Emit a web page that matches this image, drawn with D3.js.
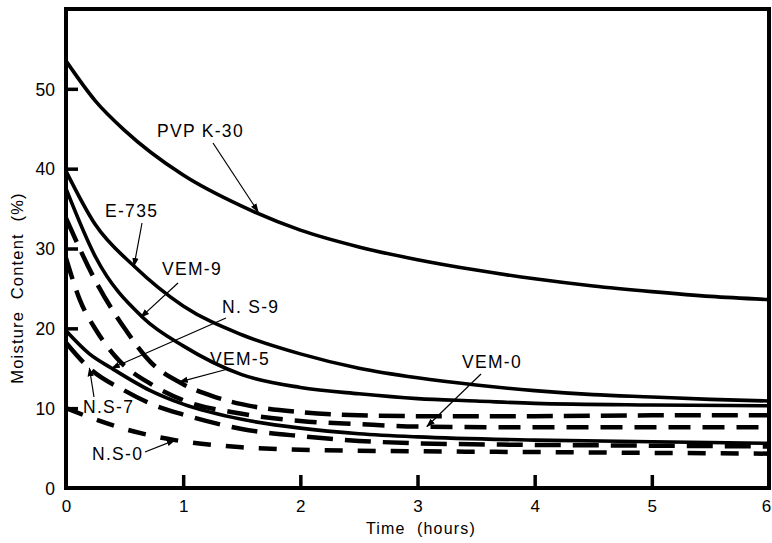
<!DOCTYPE html>
<html>
<head>
<meta charset="utf-8">
<script src="https://cdn.jsdelivr.net/npm/d3@7"></script>
<style>
  body { margin: 0; background: #fff; }
  text { font-family: "Liberation Sans", Arial, sans-serif; fill: #000; }
</style>
</head>
<body>
<div id="chart"></div>
<script>
// time in hours, moisture content in %
var pvpK30 = [[0,53.5],[0.25,48.5],[0.5,44.8],[1,39.2],[1.5,35.3],[2,32.3],[2.5,30.2],[3,28.6],[3.5,27.3],[4,26.2],[4.5,25.3],[5,24.6],[5.5,24.0],[6,23.6]]
var e735 = [[0,39.7],[0.25,33.0],[0.58,27.8],[1,22.8],[1.5,19.2],[2,16.8],[2.5,15.0],[3,13.8],[3.5,12.9],[4,12.2],[4.5,11.7],[5,11.4],[5.5,11.1],[6,10.9]]
var vem9 = [[0,37.5],[0.25,29.0],[0.66,21.3],[1,17.8],[1.5,14.2],[2,12.6],[2.5,11.8],[3,11.2],[3.5,10.9],[4,10.6],[5,10.4],[6,10.3]]
var vem5 = [[0,33.8],[0.25,26.0],[0.5,20.0],[0.72,15.8],[1,13.0],[1.25,11.5],[1.5,10.5],[2,9.5],[2.5,9.1],[3,9.0],[4,9.0],[5,9.1],[6,9.1]]
var vem0 = [[0,28.8],[0.12,23.5],[0.26,19.7],[0.42,16.5],[0.75,12.8],[1,11.0],[1.5,9.3],[2,8.4],[2.5,8.0],[3,7.7],[4,7.6],[5,7.6],[6,7.6]]
var ns9 = [[0,19.7],[0.2,16.8],[0.39,15.0],[0.72,12.2],[1,10.5],[1.5,8.6],[2,7.5],[2.5,6.8],[3,6.4],[4,6.0],[5,5.8],[6,5.6]]
var ns7 = [[0,18.2],[0.2,15.0],[0.5,12.2],[0.75,10.4],[1,9.2],[1.5,7.4],[2,6.5],[2.5,5.9],[3,5.6],[4,5.4],[5,5.3],[6,5.2]]
var ns0 = [[0,10.0],[0.25,8.6],[0.5,7.4],[0.75,6.5],[0.93,6.0],[1.25,5.4],[1.5,5.1],[2,4.8],[3,4.6],[4,4.5],[5,4.4],[6,4.3]]

var xTicks = [0,1,2,3,4,5,6]
var yTicks = [0,10,20,30,40,50]

// label text, anchor point of text, arrow from -> to (data coords for tip)
var labels = [
  {text:"PVP K-30", x:157, y:137, from:[213,143], tip:[1.64,34.6]},
  {text:"E-735",    x:105, y:217, from:[142,223], tip:[0.58,27.8]},
  {text:"VEM-9",    x:162, y:275, from:[178,283], tip:[0.64,21.4]},
  {text:"N. S-9",   x:222, y:313, from:[226,318], tip:[0.39,15.0]},
  {text:"VEM-5",    x:210, y:365, from:[228,369], tip:[0.97,13.3]},
  {text:"VEM-0",    x:462, y:368, from:[481,374], tip:[3.08,7.7]},
  {text:"N.S-7",    x:83,  y:413, from:[94,397],  tip:[0.2,15.0]},
  {text:"N.S-0",    x:92,  y:460, from:[145,452], tip:[0.93,6.0]}
]

var series = [
  {data:pvpK30, dash:null},
  {data:e735, dash:null},
  {data:vem9, dash:null},
  {data:ns9, dash:null},
  {data:vem5, dash:"26,11"},
  {data:vem0, dash:"22,12"},
  {data:ns7, dash:"26,12"},
  {data:ns0, dash:"18,15"}
]

var width = 772, height = 543
var x0 = 66, x1 = 769, yBottom = 488, yTop = 9

var svg = d3.select("#chart").append("svg")
  .attr("width", width)
  .attr("height", height)

var x = d3.scaleLinear().domain([0,6]).range([x0,x1])
var y = d3.scaleLinear().domain([0,60]).range([yBottom,yTop])

svg.append("defs").append("marker")
  .attr("id","arrow")
  .attr("viewBox","0 0 10 10")
  .attr("refX",9).attr("refY",5)
  .attr("markerWidth",9).attr("markerHeight",9)
  .attr("markerUnits","userSpaceOnUse")
  .attr("orient","auto")
  .append("path")
  .attr("d","M0,1.5 L10,5 L0,8.5 Z")
  .attr("fill","black")

// curves
var line = d3.line()
  .x(function(d){ return x(d[0]) })
  .y(function(d){ return y(d[1]) })
  .curve(d3.curveMonotoneX)

svg.selectAll(".curve").data(series).enter().append("path")
  .attr("class","curve")
  .attr("d", function(d){ return line(d.data) })
  .attr("fill","none")
  .attr("stroke","black")
  .attr("stroke-width", function(d){ return d.dash ? 4.5 : 3.6 })
  .attr("stroke-dasharray", function(d){ return d.dash })

// frame
svg.append("rect")
  .attr("x", x0).attr("y", yTop)
  .attr("width", x1-x0).attr("height", yBottom-yTop)
  .attr("fill","none")
  .attr("stroke","black")
  .attr("stroke-width",4)

// axes with inward ticks
var xAxis = d3.axisBottom(x).tickValues(xTicks).tickFormat(d3.format("d"))
  .tickSizeInner(-13).tickSizeOuter(0).tickPadding(12)
var yAxis = d3.axisLeft(y).tickValues(yTicks).tickFormat(d3.format("d"))
  .tickSizeInner(-12).tickSizeOuter(0).tickPadding(11)

var gx = svg.append("g").attr("transform","translate(0,"+yBottom+")").call(xAxis)
var gy = svg.append("g").attr("transform","translate("+x0+",0)").call(yAxis)

gx.select(".domain").remove()
gy.select(".domain").remove()
gx.selectAll(".tick line").attr("stroke","black").attr("stroke-width",3.5)
  .filter(function(d){ return d==0 || d==6 }).remove()
gy.selectAll(".tick line").attr("stroke","black").attr("stroke-width",3.5)
  .filter(function(d){ return d==0 }).remove()
gx.selectAll("text").attr("font-size",17).attr("font-family","Liberation Sans, Arial, sans-serif")
  .attr("dx", function(d){ return d==6 ? -3 : 0 })
gy.selectAll("text").attr("font-size",17.5).attr("font-family","Liberation Sans, Arial, sans-serif").attr("dy","0.36em")

// axis titles
svg.append("text")
  .text("Time  (hours)")
  .attr("x", 421).attr("y", 534)
  .attr("text-anchor","middle")
  .attr("font-size",16)
  .attr("letter-spacing",1.2)
  .style("white-space","pre")

svg.append("text")
  .text("Moisture  Content  (%)")
  .attr("transform","translate(23,288) rotate(-90)")
  .attr("text-anchor","middle")
  .attr("font-size",16.5)
  .attr("letter-spacing",1.2)
  .style("white-space","pre")

// curve labels and pointer arrows
svg.selectAll(".lbl").data(labels).enter().append("text")
  .attr("class","lbl")
  .text(function(d){ return d.text })
  .attr("x", function(d){ return d.x })
  .attr("y", function(d){ return d.y })
  .attr("font-size",17.5)
  .attr("letter-spacing",1.3)

svg.selectAll(".ptr").data(labels).enter().append("line")
  .attr("class","ptr")
  .attr("x1", function(d){ return d.from[0] })
  .attr("y1", function(d){ return d.from[1] })
  .attr("x2", function(d){ return x(d.tip[0]) })
  .attr("y2", function(d){ return y(d.tip[1]) })
  .attr("stroke","black")
  .attr("stroke-width",1.2)
  .attr("marker-end","url(#arrow)")
</script>
</body>
</html>
